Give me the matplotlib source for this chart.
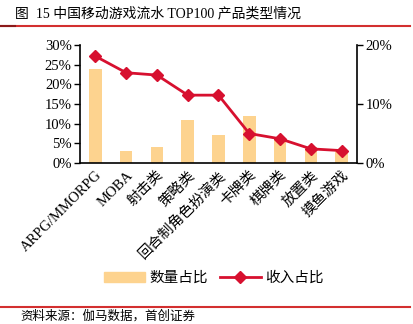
import numpy as np
import matplotlib.pyplot as plt
from matplotlib.lines import Line2D
from matplotlib.patches import Patch

categories = ["ARPG/MMORPG", "MOBA", "射击类", "策略类", "回合制角色扮演类",
              "卡牌类", "棋牌类", "放置类", "摸鱼游戏"]
count_share = [24, 3, 4, 11, 7, 12, 6, 4, 3]
revenue_share = [18.1, 15.3, 14.9, 11.5, 11.5, 5.0, 4.1, 2.4, 2.1]

fam = ['Liberation Serif', 'Noto Sans CJK SC']
plt.rcParams['font.family'] = fam

bar_c = '#FDD38F'
line_c = '#D7102F'

fig = plt.figure(figsize=(4.14, 3.24), dpi=100)
ax = fig.add_axes([80/414, 1-163/324, 277/414, 118/324])
x = np.arange(len(categories))
ax.bar(x, count_share, width=0.41, color=bar_c, zorder=1)
ax.set_xlim(-0.5, len(categories)-0.5)
ax.set_ylim(0, 30)
ax.set_yticks(np.arange(0, 31, 5))
ax.set_yticklabels([f"{v}%" for v in range(0, 31, 5)], fontsize=10.5)
ax.set_xticks(x)
ax.set_xticklabels(categories, rotation=45, ha='right', rotation_mode='anchor',
                   fontsize=10.5)
ax.tick_params(axis='x', length=0, pad=4)
ax.tick_params(axis='y', length=4, width=1, pad=2)
ax.spines['top'].set_visible(False)
ax.spines['right'].set_visible(False)
for s in ['left', 'bottom']:
    ax.spines[s].set_linewidth(1.2)

ax2 = ax.twinx()
ax2.plot(x, revenue_share, color=line_c, lw=2, marker='D', ms=6, zorder=3)
ax2.set_ylim(0, 20)
ax2.set_yticks([0, 10, 20])
ax2.set_yticklabels(["0%", "10%", "20%"], fontsize=10.5)
ax2.tick_params(axis='y', length=4, width=1, pad=2)
ax2.spines['top'].set_visible(False)
ax2.spines['left'].set_visible(False)
ax2.spines['bottom'].set_visible(False)
ax2.spines['right'].set_linewidth(1.2)

handles = [Patch(color=bar_c), Line2D([], [], color=line_c, lw=2, marker='D', ms=6)]
fig.legend(handles, ["数量占比", "收入占比"], loc='center', bbox_to_anchor=(214/414, 1-278/324),
           ncol=2, frameon=False, handlelength=2.8, columnspacing=0.8,
           handletextpad=0.3, prop={'family': fam, 'size': 10.5})

fig.text(15/414, 1-14/324, "图  15 中国移动游戏流水 TOP100 产品类型情况", fontsize=10,
         va='center', ha='left')
fig.add_artist(Line2D([0, 410/414], [1-26/324]*2, color='#D32F2F', lw=1.5))
fig.add_artist(Line2D([0, 15/414], [1-26/324]*2, color='#8B1A1A', lw=1.5))
fig.add_artist(Line2D([0, 410/414], [1-307/324]*2, color='#D32F2F', lw=1.5))
fig.text(20/414, 1-316/324, "资料来源：伽马数据，首创证券", fontsize=9, style='italic',
         va='center', ha='left')

fig.savefig("out.png", dpi=100)
